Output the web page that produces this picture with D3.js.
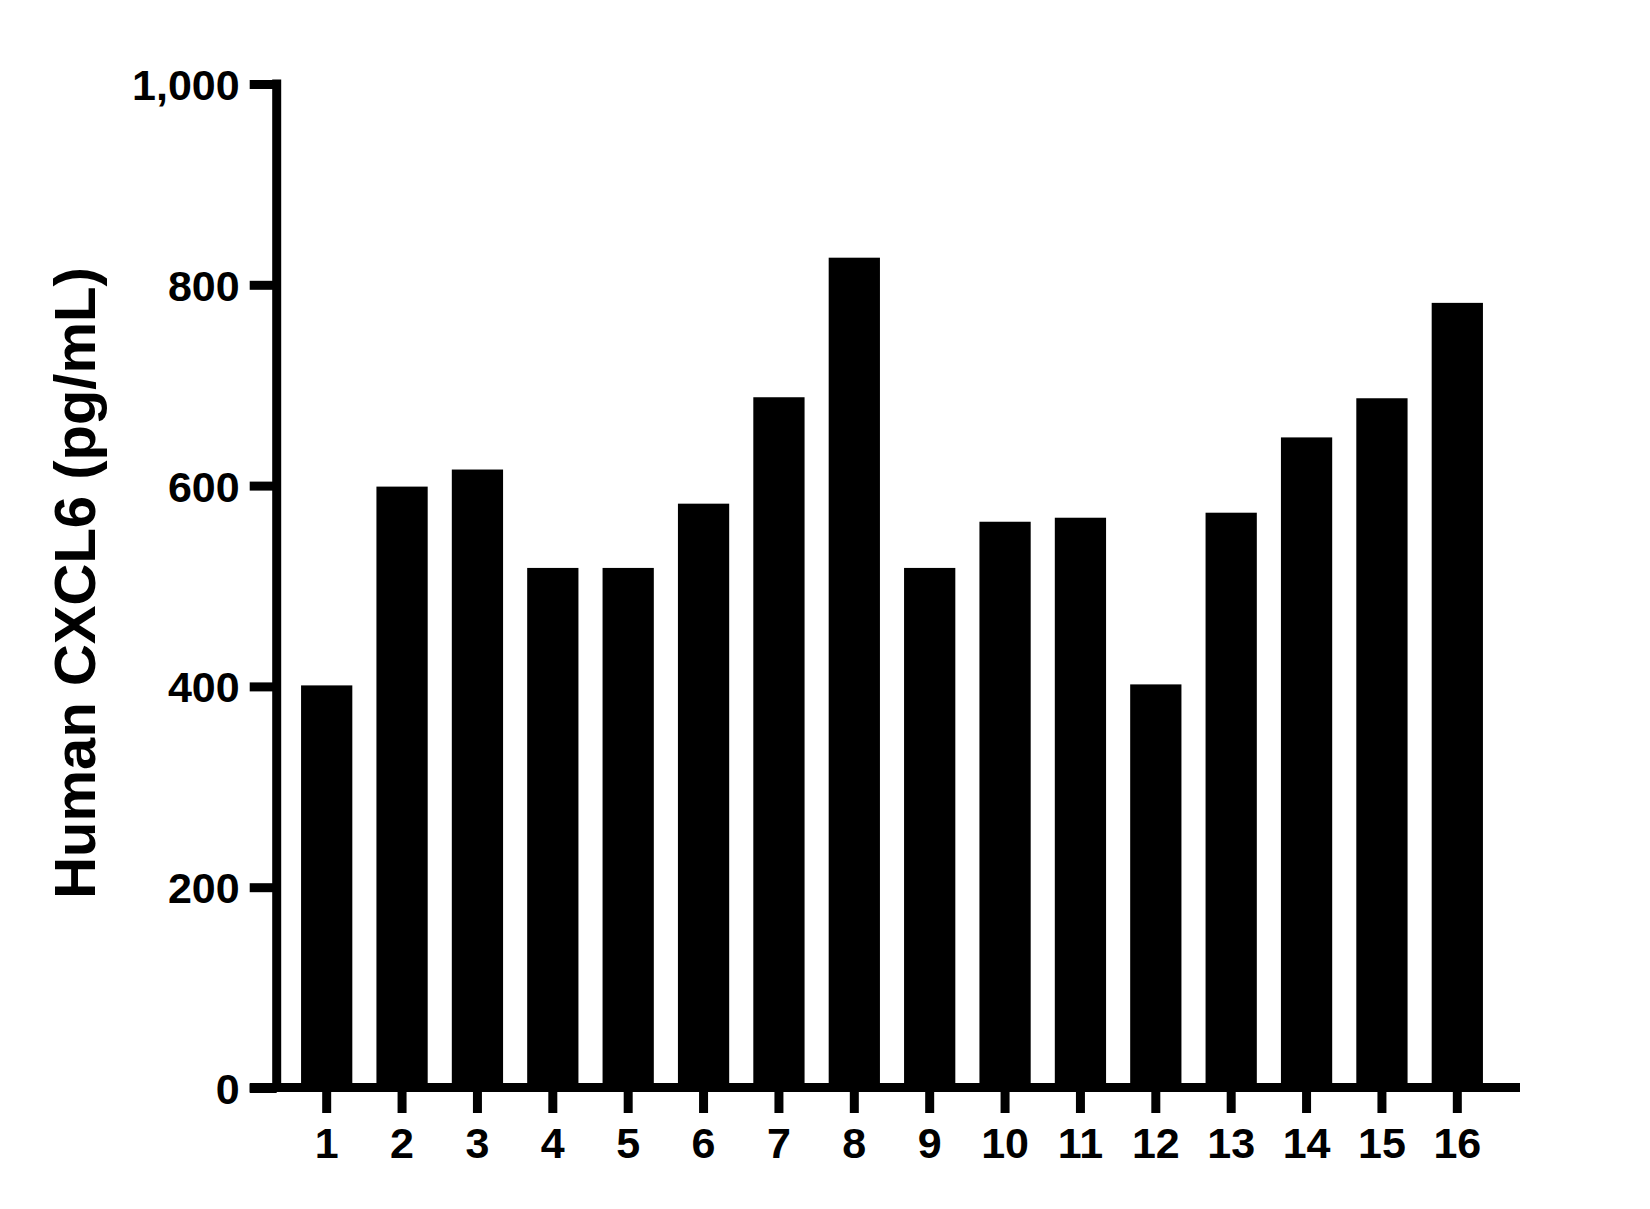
<!DOCTYPE html>
<html>
<head>
<meta charset="utf-8">
<script src="https://cdn.jsdelivr.net/npm/d3@7"></script>
<style>
  body { margin: 0; background: #fff; }
  svg { display: block; font-family: "Liberation Sans", Arial, sans-serif; font-weight: bold; }
</style>
</head>
<body>
<div id="chart"></div>
<script>
// === DATA ===
const samples = ["1","2","3","4","5","6","7","8","9","10","11","12","13","14","15","16"];
const cxcl6 = [401, 599, 616, 518, 518, 582, 688, 827, 518, 564, 568, 402, 573, 648, 687, 782];
const yTicks = [0, 200, 400, 600, 800, 1000];
const yLabel = "Human CXCL6 (pg/mL)";

// === LAYOUT ===
const W = 1650, H = 1209;
const axisX = 276.7;      // y axis line
const axisY = 1087.5;     // x axis line
const lineW = 9;

const svg = d3.select("#chart").append("svg").attr("width", W).attr("height", H);

const x = d3.scaleBand().domain(samples).range([289, 1495]).paddingInner(0.32).paddingOuter(0.16);
const y = d3.scaleLinear().domain([0, 1000]).range([1088, 84]);

// === BARS ===
svg.append("g").selectAll("rect")
  .data(samples.map((s, i) => ({s, v: cxcl6[i]})))
  .join("rect")
  .attr("x", d => x(d.s))
  .attr("y", d => y(d.v))
  .attr("width", x.bandwidth())
  .attr("height", d => y(0) - y(d.v))
  .attr("fill", "#000");

// === Y AXIS ===
const yAxis = svg.append("g")
  .attr("transform", `translate(${axisX},0)`)
  .call(d3.axisLeft(y).tickValues(yTicks).tickFormat(d3.format(",")).tickSize(27).tickSizeOuter(0).tickPadding(10));
yAxis.select(".domain").remove();
yAxis.append("line")
  .attr("x1", 0).attr("x2", 0)
  .attr("y1", y(1000) - lineW / 2).attr("y2", axisY + lineW / 2)
  .attr("stroke", "#000").attr("stroke-width", lineW);
yAxis.selectAll(".tick line").attr("stroke", "#000").attr("stroke-width", lineW);
yAxis.selectAll(".tick text")
  .attr("fill", "#000").attr("font-size", 43).attr("dy", "0.36em")
  .style("font-family", "'Liberation Sans', Arial, sans-serif").style("font-weight", "bold");

// === X AXIS ===
const xAxis = svg.append("g")
  .attr("transform", `translate(0,${axisY})`)
  .call(d3.axisBottom(x).tickSize(25.5).tickSizeOuter(0).tickPadding(14.5));
xAxis.select(".domain").remove();
xAxis.append("line")
  .attr("x1", axisX - 27).attr("x2", 1520)
  .attr("y1", 0).attr("y2", 0)
  .attr("stroke", "#000").attr("stroke-width", lineW);
xAxis.selectAll(".tick line").attr("stroke", "#000").attr("stroke-width", lineW);
xAxis.selectAll(".tick text")
  .attr("fill", "#000").attr("font-size", 43)
  .style("font-family", "'Liberation Sans', Arial, sans-serif").style("font-weight", "bold");

// === AXIS TITLE ===
svg.append("text")
  .attr("transform", "translate(95,583) rotate(-90)")
  .attr("text-anchor", "middle")
  .attr("font-size", 58)
  .attr("fill", "#000")
  .text(yLabel);
</script>
</body>
</html>
